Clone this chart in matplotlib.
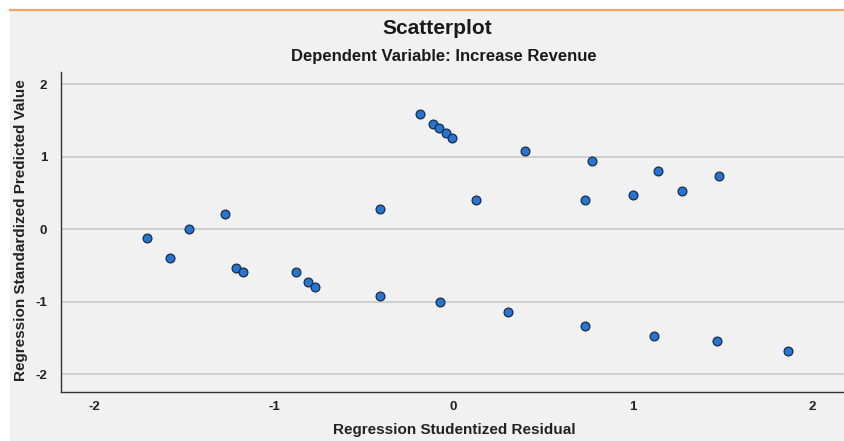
import matplotlib.pyplot as plt
from matplotlib.lines import Line2D

# studentized residual (x) vs standardized predicted value (y)
residual = [-1.709, -1.579, -1.475, -1.277, -1.213, -1.174, -0.877, -0.811, -0.773,
            -0.409, -0.409, -0.187, -0.116, -0.079, -0.043, -0.010, -0.075, 0.125,
            0.398, 0.305, 0.729, 0.773, 0.729, 1.000, 1.139, 1.117, 1.271, 1.479,
            1.470, 1.864]
predicted = [-0.128, -0.404, 0.000, 0.202, -0.537, -0.596, -0.596, -0.730, -0.799,
             0.275, -0.923, 1.588, 1.456, 1.395, 1.332, 1.263, -1.001, 0.404,
             1.074, -1.147, 0.399, 0.933, -1.340, 0.464, 0.795, -1.474, 0.523, 0.726,
             -1.547, -1.680]
x_ticks = [-2, -1, 0, 1, 2]
y_ticks = [-2, -1, 0, 1, 2]

plt.rcParams["font.family"] = ["Liberation Sans", "DejaVu Sans"]
plt.rcParams["axes.unicode_minus"] = False

bg = "#f1f1f1"
fig = plt.figure(figsize=(8.44, 4.41), dpi=100, facecolor="white")
# grey panel below the orange rule, white margin above and left
left_px, top_px = 10 / 844, 9.5 / 441
fig.patches.append(plt.Rectangle((left_px, 0), 1 - left_px, 1 - top_px,
                                 transform=fig.transFigure, facecolor=bg,
                                 edgecolor="none", zorder=-5))
fig.add_artist(Line2D([left_px, 1], [1 - top_px] * 2, color="#f2a566", lw=1.6))

ax = fig.add_axes([0.0723, 0.1118, 1 - 0.0723, 0.725])
ax.set_facecolor(bg)
ax.scatter(residual, predicted, s=40, color="#2277d6", edgecolor="#1a2a40",
           linewidth=0.9, zorder=3)

ax.set_xlim(-2.188, 2.175)
ax.set_ylim(-2.241, 2.167)
ax.set_xticks(x_ticks)
ax.set_yticks(y_ticks)
ax.tick_params(length=0, labelsize=9.5, labelcolor="#222222")
ax.tick_params(axis="x", pad=7)
ax.tick_params(axis="y", pad=10)
for lab in ax.get_xticklabels() + ax.get_yticklabels():
    lab.set_fontweight("bold")
ax.yaxis.grid(True, color="#cccccc", lw=1.3)
ax.set_axisbelow(True)
for side in ["top", "right"]:
    ax.spines[side].set_visible(False)
for side in ["left", "bottom"]:
    ax.spines[side].set_color("#333333")
    ax.spines[side].set_linewidth(1.0)

fig.text(454 / 844, 1 - 430 / 441, "Regression Studentized Residual", ha="center",
         va="center", fontsize=11, fontweight="bold", color="#222222")
fig.text(21 / 844, 1 - 230 / 441, "Regression Standardized Predicted Value", ha="center",
         va="center", rotation=90, fontsize=11, fontweight="bold", color="#222222")

fig.text(437 / 844, 1 - 28 / 441, "Scatterplot", ha="center", va="center",
         fontsize=15, fontweight="bold", color="#1a1a1a")
fig.text(444 / 844, 1 - 56 / 441, "Dependent Variable: Increase Revenue", ha="center",
         va="center", fontsize=12, fontweight="bold", color="#1a1a1a")

fig.savefig("out.png", dpi=100, facecolor="white")
